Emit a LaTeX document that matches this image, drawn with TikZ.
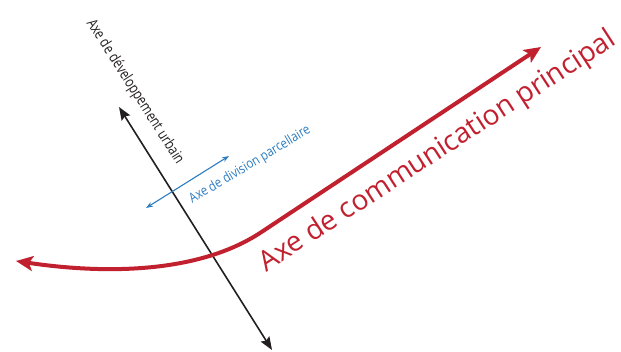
\documentclass[tikz,border=0pt]{standalone}
\usepackage{fontspec}
\setmainfont{Open Sans}
\usepackage{tikz}
\usetikzlibrary{arrows.meta}
\definecolor{axered}{HTML}{C1202F}
\definecolor{axeblack}{HTML}{231F20}
\definecolor{axeblue}{HTML}{2B7CC1}

\begin{document}
\begin{tikzpicture}[
  x=1pt,y=-1pt,
  axelabel/.style={inner sep=0pt,anchor=center},
  ]
  \tikzset{%
    urbanaxis/.style={
      draw=axeblack,
      line width=1.6pt,
      {Stealth[length=13pt,width=10pt,inset=2pt]}-{Stealth[length=13pt,width=10pt,inset=2pt]},
    },
    plotaxis/.style={
      draw=axeblue,
      line width=1.1pt,
      {Stealth[length=7pt,width=5pt]}-{Stealth[length=7pt,width=5pt]},
    },
    mainaxis/.style={
      draw=axered,
      line width=4pt,
      {Stealth[length=17pt,width=15pt,inset=4pt]}-{Stealth[length=17pt,width=15pt,inset=4pt]},
    },
  }
  \useasboundingbox (0,0) rectangle (621,352);
  %Points
  \coordinate (u1) at (119,107);
  \coordinate (u2) at (272,350);
  \coordinate (p1) at (146,208);
  \coordinate (p2) at (229,156);
  \coordinate (m1) at (16,261);
  \coordinate (m2) at (260,233);
  \coordinate (m3) at (541,47);
  %Nodes
  \node[axelabel,rotate=-57.5,xscale=0.8,text=axeblack,font=\fontsize{15}{15}\selectfont]
    (urbain) at (135,92) {Axe de développement urbain};
  \node[axelabel,rotate=31,xscale=0.85,text=axeblue,font=\fontsize{13.5}{13.5}\selectfont]
    (parcel) at (250,165) {Axe de division parcellaire};
  \node[axelabel,rotate=33,text=axered,font=\fontsize{28}{28}\selectfont]
    (principal) at (438,152) {Axe de communication principal};
  %Lines
  \draw[urbanaxis] (u1) -- (u2);
  \draw[plotaxis] (p1) -- (p2);
  \draw[mainaxis]
    (m1) .. controls (110,275) and (200,272) .. (m2) -- (m3);
\end{tikzpicture}
\end{document}
